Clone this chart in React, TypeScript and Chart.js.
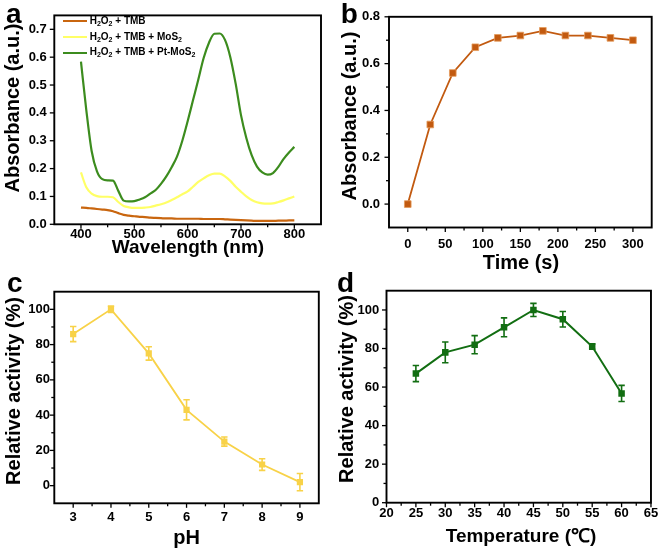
import React, { useEffect, useRef } from 'react';
import { Chart, registerables } from 'chart.js';

Chart.register(...registerables);

const FONT = '"Liberation Sans", Arial, Helvetica, sans-serif';

// ---------- Panel a : UV-vis spectra ----------
const wavelengths = [400, 410, 420, 430, 440, 450, 460, 470, 480, 490, 500, 510, 520, 530, 540, 550, 560, 570, 580, 590, 600, 610, 620, 630, 640, 650, 660, 670, 680, 690, 700, 710, 720, 730, 740, 750, 760, 770, 780, 790, 800];
const absTMB = [0.060, 0.059, 0.057, 0.055, 0.053, 0.051, 0.047, 0.040, 0.034, 0.031, 0.029, 0.027, 0.026, 0.024, 0.023, 0.022, 0.021, 0.021, 0.020, 0.020, 0.020, 0.020, 0.020, 0.019, 0.019, 0.019, 0.019, 0.018, 0.017, 0.016, 0.015, 0.014, 0.013, 0.012, 0.012, 0.012, 0.012, 0.013, 0.013, 0.014, 0.014];
const absMoS2 = [0.186, 0.133, 0.110, 0.101, 0.099, 0.099, 0.097, 0.080, 0.066, 0.061, 0.059, 0.059, 0.060, 0.062, 0.067, 0.072, 0.078, 0.087, 0.097, 0.108, 0.118, 0.135, 0.152, 0.165, 0.176, 0.182, 0.182, 0.172, 0.156, 0.135, 0.117, 0.100, 0.087, 0.079, 0.075, 0.074, 0.075, 0.080, 0.086, 0.093, 0.100];
const absPtMoS2 = [0.584, 0.410, 0.263, 0.190, 0.162, 0.158, 0.157, 0.120, 0.085, 0.082, 0.083, 0.089, 0.097, 0.110, 0.123, 0.145, 0.172, 0.205, 0.243, 0.300, 0.370, 0.445, 0.520, 0.597, 0.652, 0.684, 0.685, 0.662, 0.600, 0.505, 0.392, 0.310, 0.248, 0.207, 0.186, 0.178, 0.184, 0.206, 0.235, 0.258, 0.278];
const seriesNamesA = ['H2O2 + TMB', 'H2O2 + TMB + MoS2', 'H2O2 + TMB + Pt-MoS2'];
const aXMajor = [400, 500, 600, 700, 800];
const aXMinor = [450, 550, 650, 750];
const aYMajor = [0, 0.1, 0.2, 0.3, 0.4, 0.5, 0.6, 0.7];

// ---------- Panel b : time course ----------
const times = [0, 30, 60, 90, 120, 150, 180, 210, 240, 270, 300];
const absTime = [0, 0.34, 0.56, 0.67, 0.71, 0.72, 0.74, 0.72, 0.72, 0.71, 0.70];
const bXMajor = [0, 50, 100, 150, 200, 250, 300];
const bXMinor = [25, 75, 125, 175, 225, 275];
const bYMajor = [0, 0.2, 0.4, 0.6, 0.8];
const bYMinor = [0.1, 0.3, 0.5, 0.7];

// ---------- Panel c : pH ----------
const pHs = [3, 4, 5, 6, 7, 8, 9];
const actPH = [86, 100, 75, 43, 25, 12, 2];
const errPH = [4.3, 1.8, 3.8, 5.7, 2.6, 3.3, 4.9];
const cXMajor = [3, 4, 5, 6, 7, 8, 9];
const cXMinor = [3.5, 4.5, 5.5, 6.5, 7.5, 8.5];
const cYMajor = [0, 20, 40, 60, 80, 100];
const cYMinor = [10, 30, 50, 70, 90];

// ---------- Panel d : temperature ----------
const temps = [25, 30, 35, 40, 45, 50, 55, 60];
const actT = [67, 78, 82, 91, 100, 95.2, 81, 56.7];
const errT = [4.2, 5.4, 4.7, 4.9, 3.4, 4.0, 1.4, 4.2];
const dXMajor = [20, 25, 30, 35, 40, 45, 50, 55, 60, 65];
const dXMinor = [22.5, 27.5, 32.5, 37.5, 42.5, 47.5, 52.5, 57.5, 62.5];
const dYMajor = [0, 20, 40, 60, 80, 100];
const dYMinor = [10, 30, 50, 70, 90];

const COL_A = ['#C9660F', '#FFFF66', '#3C8C1E'];
const COL_B = '#C25A10';
const COL_C = '#F8D248';
const COL_D = '#126E12';

const pts = (xs: number[], ys: number[]) => xs.map((x, i) => ({ x, y: ys[i] }));

const framePlugin = {
  id: 'frame',
  afterDatasetsDraw(chart: any, _args: any, opts: any) {
    const { ctx, chartArea } = chart;
    const { left, right, top, bottom } = chartArea;
    const xs = chart.scales.x;
    const ys = chart.scales.y;
    ctx.save();
    ctx.strokeStyle = '#000';
    ctx.lineWidth = 1.3;
    const tickX = (vals: number[], len: number) => {
      vals.forEach((v) => {
        const p = xs.getPixelForValue(v);
        ctx.beginPath();
        ctx.moveTo(p, bottom);
        ctx.lineTo(p, bottom + len);
        ctx.stroke();
      });
    };
    const tickY = (vals: number[], len: number) => {
      vals.forEach((v) => {
        const p = ys.getPixelForValue(v);
        ctx.beginPath();
        ctx.moveTo(left, p);
        ctx.lineTo(left - len, p);
        ctx.stroke();
      });
    };
    tickX(opts.xMajor || [], 4.5);
    tickX(opts.xMinor || [], 3);
    tickY(opts.yMajor || [], 4.5);
    tickY(opts.yMinor || [], 3);
    ctx.lineWidth = 1.9;
    ctx.strokeRect(left, top, right - left, bottom - top);
    ctx.restore();
  },
};

const errPlugin = {
  id: 'errbars',
  beforeDatasetsDraw(chart: any, _args: any, opts: any) {
    if (!opts || !opts.errors) return;
    const { ctx } = chart;
    const xs = chart.scales.x;
    const ys = chart.scales.y;
    const data = chart.data.datasets[0].data as { x: number; y: number }[];
    ctx.save();
    ctx.strokeStyle = opts.color;
    ctx.lineWidth = 1.6;
    data.forEach((d, i) => {
      const e = opts.errors[i];
      const px = xs.getPixelForValue(d.x);
      const pt = ys.getPixelForValue(d.y + e);
      const pb = ys.getPixelForValue(d.y - e);
      ctx.beginPath();
      ctx.moveTo(px, pt);
      ctx.lineTo(px, pb);
      ctx.moveTo(px - 3.2, pt);
      ctx.lineTo(px + 3.2, pt);
      ctx.moveTo(px - 3.2, pb);
      ctx.lineTo(px + 3.2, pb);
      ctx.stroke();
    });
    ctx.restore();
  },
};

type AxisSpec = {
  min: number;
  max: number;
  major: number[];
  fmt: (v: number) => string;
  pad: number;
  size: number;
};

function makeConfig(opts: {
  datasets: any[];
  x: AxisSpec;
  y: AxisSpec;
  padTop: number;
  padRight: number;
  frame: any;
  errbars?: any;
}): any {
  const tickFont = { family: FONT, size: 13, weight: 'bold' as const };
  return {
    type: 'line',
    data: { datasets: opts.datasets },
    options: {
      animation: false,
      responsive: false,
      devicePixelRatio: 1,
      events: [],
      layout: { padding: { left: 0, top: opts.padTop, right: opts.padRight, bottom: 0 } },
      plugins: {
        legend: { display: false },
        tooltip: { enabled: false },
        frame: opts.frame,
        errbars: opts.errbars || {},
      },
      scales: {
        x: {
          type: 'linear',
          min: opts.x.min,
          max: opts.x.max,
          grid: { display: false, drawTicks: false, tickLength: 0 },
          border: { display: false },
          afterBuildTicks: (s: any) => {
            s.ticks = opts.x.major.map((v) => ({ value: v }));
          },
          afterFit: (s: any) => {
            s.height = opts.x.size;
          },
          ticks: {
            font: tickFont,
            color: '#000',
            padding: opts.x.pad,
            maxRotation: 0,
            autoSkip: false,
            callback: (v: any) => opts.x.fmt(Number(v)),
          },
        },
        y: {
          type: 'linear',
          min: opts.y.min,
          max: opts.y.max,
          grid: { display: false, drawTicks: false, tickLength: 0 },
          border: { display: false },
          afterBuildTicks: (s: any) => {
            s.ticks = opts.y.major.map((v) => ({ value: v }));
          },
          afterFit: (s: any) => {
            s.width = opts.y.size;
          },
          ticks: {
            font: tickFont,
            color: '#000',
            padding: opts.y.pad,
            autoSkip: false,
            callback: (v: any) => opts.y.fmt(Number(v)),
          },
        },
      },
    },
    plugins: [errPlugin, framePlugin],
  };
}

function Panel({ left, top, width, height, build }: { left: number; top: number; width: number; height: number; build: () => any }) {
  const ref = useRef<HTMLCanvasElement>(null);
  useEffect(() => {
    const chart = new Chart(ref.current as HTMLCanvasElement, build());
    return () => chart.destroy();
  }, []);
  return (
    <canvas
      ref={ref}
      width={width}
      height={height}
      style={{ position: 'absolute', left, top, width, height }}
    />
  );
}

const int = (v: number) => String(Math.round(v));
const dec1 = (v: number) => v.toFixed(1);

const buildA = () =>
  makeConfig({
    datasets: [absTMB, absMoS2, absPtMoS2].map((arr, i) => ({
      label: seriesNamesA[i],
      data: pts(wavelengths, arr),
      borderColor: COL_A[i],
      borderWidth: 2.2,
      pointRadius: 0,
      cubicInterpolationMode: 'monotone',
      fill: false,
    })),
    x: { min: 350, max: 850, major: aXMajor, fmt: int, pad: 2, size: 45.7 },
    y: { min: 0, max: 0.75, major: aYMajor, fmt: dec1, pad: 7.6, size: 54.3 },
    padTop: 12.5,
    padRight: 9,
    frame: { xMajor: aXMajor, xMinor: aXMinor, yMajor: aYMajor, yMinor: [] },
  });

const buildB = () =>
  makeConfig({
    datasets: [
      {
        data: pts(times, absTime),
        borderColor: COL_B,
        backgroundColor: COL_B,
        borderWidth: 1.8,
        pointStyle: 'rect',
        pointRadius: 4.7,
        pointBorderWidth: 0.8,
        pointBorderColor: '#E49A5A',
        fill: false,
      },
    ],
    x: { min: -25, max: 325, major: bXMajor, fmt: int, pad: 9.4, size: 42.5 },
    y: { min: -0.1, max: 0.8, major: bYMajor, fmt: dec1, pad: 9, size: 59 },
    padTop: 15,
    padRight: 9.3,
    frame: { xMajor: bXMajor, xMinor: bXMinor, yMajor: bYMajor, yMinor: bYMinor },
  });

const buildC = () =>
  makeConfig({
    datasets: [
      {
        data: pts(pHs, actPH),
        borderColor: COL_C,
        backgroundColor: COL_C,
        borderWidth: 1.8,
        pointStyle: 'rect',
        pointRadius: 4.4,
        pointBorderWidth: 0,
        fill: false,
      },
    ],
    x: { min: 2.5, max: 9.5, major: cXMajor, fmt: int, pad: 6.1, size: 44.7 },
    y: { min: -10, max: 110, major: cYMajor, fmt: int, pad: 4.3, size: 54.3 },
    padTop: 21.7,
    padRight: 11.2,
    frame: { xMajor: cXMajor, xMinor: cXMinor, yMajor: cYMajor, yMinor: cYMinor },
    errbars: { errors: errPH, color: COL_C },
  });

const buildD = () =>
  makeConfig({
    datasets: [
      {
        data: pts(temps, actT),
        borderColor: COL_D,
        backgroundColor: COL_D,
        borderWidth: 2,
        pointStyle: 'rect',
        pointRadius: 4.6,
        pointBorderWidth: 0,
        fill: false,
      },
    ],
    x: { min: 20, max: 65, major: dXMajor, fmt: int, pad: 2.8, size: 45.3 },
    y: { min: 0, max: 110, major: dYMajor, fmt: int, pad: 7.3, size: 56.5 },
    padTop: 20.7,
    padRight: 9.2,
    frame: { xMajor: dXMajor, xMinor: dXMinor, yMajor: dYMajor, yMinor: dYMinor },
    errbars: { errors: errT, color: COL_D },
  });

const titleStyle: React.CSSProperties = {
  position: 'absolute',
  fontFamily: FONT,
  fontWeight: 'bold',
  fontSize: 20,
  lineHeight: '20px',
  whiteSpace: 'nowrap',
  color: '#000',
};

function HTitle({ text, cx, capTop, size = 20 }: { text: string; cx: number; capTop: number; size?: number }) {
  return (
    <div style={{ ...titleStyle, fontSize: size, left: cx, top: capTop - 2.6, transform: 'translateX(-50%)' }}>{text}</div>
  );
}

function VTitle({ text, capLeft, cy }: { text: string; capLeft: number; cy: number }) {
  return (
    <div style={{ ...titleStyle, left: capLeft + 7.4, top: cy, transform: 'translate(-50%, -50%) rotate(-90deg)' }}>
      {text}
    </div>
  );
}

function Letter({ text, left, baseline }: { text: string; left: number; baseline: number }) {
  return (
    <div
      style={{
        position: 'absolute',
        left,
        top: baseline - 23.7,
        fontFamily: FONT,
        fontWeight: 'bold',
        fontSize: 28,
        lineHeight: '28px',
        color: '#000',
      }}
    >
      {text}
    </div>
  );
}

const Sub = ({ children }: { children: React.ReactNode }) => (
  <span style={{ fontSize: 7, position: 'relative', top: 2 }}>{children}</span>
);

const legendRowsA: React.ReactNode[] = [
  <>H<Sub>2</Sub>O<Sub>2</Sub> + TMB</>,
  <>H<Sub>2</Sub>O<Sub>2</Sub> + TMB + MoS<Sub>2</Sub></>,
  <>H<Sub>2</Sub>O<Sub>2</Sub> + TMB + Pt-MoS<Sub>2</Sub></>,
];
const legendCentersA = [21.3, 37, 52.8];

export default function App() {
  return (
    <div style={{ position: 'absolute', left: 0, top: 0, width: 661, height: 548, background: '#fff', overflow: 'hidden' }}>
      <Panel left={0} top={0} width={330} height={270} build={buildA} />
      <Panel left={330} top={0} width={331} height={270} build={buildB} />
      <Panel left={0} top={270} width={330} height={278} build={buildC} />
      <Panel left={330} top={270} width={331} height={278} build={buildD} />

      {legendRowsA.map((row, i) => (
        <div
          key={i}
          style={{
            position: 'absolute',
            left: 62.7,
            top: legendCentersA[i] - 6,
            height: 12,
            display: 'flex',
            alignItems: 'center',
            whiteSpace: 'nowrap',
          }}
        >
          <div style={{ width: 24, height: 2.2, background: COL_A[i] }} />
          <div style={{ marginLeft: 3, fontFamily: FONT, fontWeight: 'bold', fontSize: 10, lineHeight: '12px', color: '#000' }}>
            {row}
          </div>
        </div>
      ))}

      <Letter text="a" left={6} baseline={23.3} />
      <Letter text="b" left={340.7} baseline={23.3} />
      <Letter text="c" left={7} baseline={292.7} />
      <Letter text="d" left={337} baseline={292.7} />

      <HTitle text="Wavelength (nm)" cx={188} capTop={240} size={19} />
      <HTitle text="Time (s)" cx={521} capTop={255} />
      <HTitle text="pH" cx={186.7} capTop={530} />
      <HTitle text="Temperature (℃)" cx={521} capTop={528.3} size={19} />

      <VTitle text="Absorbance (a.u.)" capLeft={5} cy={108} />
      <VTitle text="Absorbance (a.u.)" capLeft={342} cy={116} />
      <VTitle text="Relative activity (%)" capLeft={6} cy={390.8} />
      <VTitle text="Relative activity (%)" capLeft={338.3} cy={389} />
    </div>
  );
}
